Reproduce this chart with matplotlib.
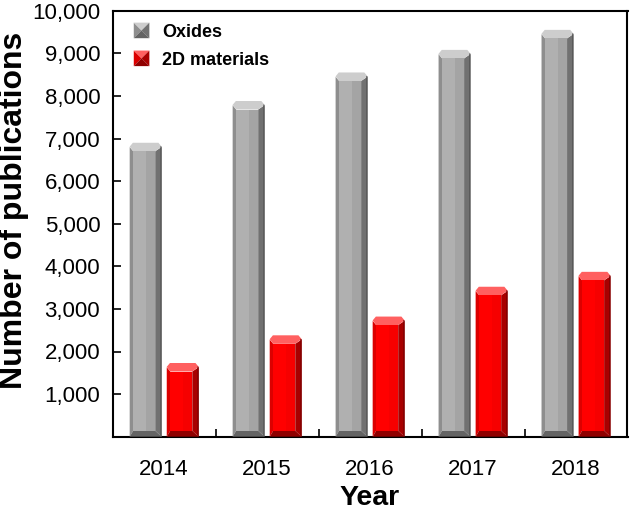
import numpy as np
import matplotlib
matplotlib.use("Agg")
import matplotlib.pyplot as plt
from matplotlib.patches import Polygon
from matplotlib.legend_handler import HandlerBase
from matplotlib.patches import Patch
from matplotlib.ticker import FuncFormatter, FixedLocator

years = ["2014", "2015", "2016", "2017", "2018"]
oxides = [6900, 7880, 8550, 9080, 9550]
materials_2d = [1730, 2380, 2820, 3520, 3870]
series_names = ["Oxides", "2D materials"]
y_ticks = [1000, 2000, 3000, 4000, 5000, 6000, 7000, 8000, 9000, 10000]

plt.rcParams['font.family'] = ['Liberation Sans', 'DejaVu Sans']

GRAY = dict(face='#b0b0b0', face2='#a4a4a4', left='#8e8e8e', right='#717171',
            top='#cdcdcd', bottom='#646464', edge='#555555')
RED = dict(face='#ff0000', face2='#f60000', left='#dc0000', right='#a80000',
           top='#ff6060', bottom='#900000', edge='#7a0000')

fig = plt.figure(figsize=(6.30, 5.13), dpi=100)
ax = fig.add_axes([112.7 / 630, (513 - 436.7) / 513, (627.5 - 112.7) / 630, (436.7 - 10.7) / 513])

x = np.arange(len(years))
bw = 0.31
off = 0.18


def bevel_bars(rects, c):
    for r in rects:
        x0, w, h = r.get_x(), r.get_width(), r.get_height()
        x1 = x0 + w
        sl = w * 0.11
        sr = w * 0.20
        ty = 200.0
        by = 140.0
        inner = [(x0 + sl, by), (x1 - sr, by), (x1 - sr, h - ty), (x0 + sl, h - ty)]
        polys = [
            ([(x0, 0), (x0 + sl, by), (x0 + sl, h - ty), (x0, h - ty * 0.5)], c['left']),
            ([(x1, 0), (x1, h - ty * 0.5), (x1 - sr, h - ty), (x1 - sr, by)], c['right']),
            ([(x0, 0), (x1, 0), (x1 - sr, by), (x0 + sl, by)], c['bottom']),
            ([(x0, h - ty * 0.45), (x0 + w * 0.10, h), (x1 - w * 0.10, h), (x1, h - ty * 0.45),
              (x1 - sr, h - ty), (x0 + sl, h - ty)], c['top']),
            (inner, c['face']),
            ([(x0 + sl + (w - sl - sr) * 0.6, by), (x1 - sr, by), (x1 - sr, h - ty),
              (x0 + sl + (w - sl - sr) * 0.6, h - ty)], c['face2']),
        ]
        for pts, col in polys:
            ax.add_patch(Polygon(pts, closed=True, facecolor=col, edgecolor='none', zorder=3))
        ax.add_patch(Polygon([(x1 - w * 0.04, 0), (x1, 0), (x1, h - ty * 0.45), (x1 - w * 0.04, h - ty * 0.4)],
                             closed=True, facecolor=c['edge'], edgecolor='none', zorder=3))


b1 = ax.bar(x - off, oxides, width=bw, color='none', edgecolor='none', zorder=2)
b2 = ax.bar(x + off, materials_2d, width=bw, color='none', edgecolor='none', zorder=2)
bevel_bars(b1, GRAY)
bevel_bars(b2, RED)

ax.set_xlim(-0.5, len(years) - 0.5)
ax.set_ylim(0, 10000)
ax.set_xticks(x)
ax.set_xticklabels(years)
ax.xaxis.set_minor_locator(FixedLocator(x[:-1] + 0.5))
ax.tick_params(axis='x', which='major', length=0, labelsize=16, pad=16)
ax.tick_params(axis='x', which='minor', direction='in', length=6, width=1.2, color='black')
ax.yaxis.set_major_locator(FixedLocator(y_ticks))
ax.yaxis.set_major_formatter(FuncFormatter(lambda v, p: f"{int(v):,}"))
ax.tick_params(axis='y', direction='in', length=6, width=1.2, labelsize=16, pad=9)
for s in ax.spines.values():
    s.set_linewidth(1.5)

ax.set_xlabel("Year", fontsize=20.5, fontweight='bold', va='center')
ax.xaxis.set_label_coords(0.498, -0.145)
ax.set_ylabel("Number of publications", fontsize=23, fontweight='bold', va='center')
ax.yaxis.set_label_coords(-0.192, 0.532)


class BevelHandler(HandlerBase):
    def __init__(self, c):
        super().__init__()
        self.c = c

    def create_artists(self, legend, orig_handle, xdescent, ydescent, width, height, fontsize, trans):
        s = height
        x0, y0 = -xdescent + (width - s) / 2, -ydescent
        x1, y1 = x0 + s, y0 + s
        cx, cy = (x0 + x1) / 2, (y0 + y1) / 2
        c = self.c
        arts = [
            Polygon([(x0, y0), (x0, y1), (cx, cy)], facecolor=c['left'], edgecolor='none', transform=trans),
            Polygon([(x0, y1), (x1, y1), (cx, cy)], facecolor=c['top'], edgecolor='none', transform=trans),
            Polygon([(x1, y1), (x1, y0), (cx, cy)], facecolor=c['right'], edgecolor='none', transform=trans),
            Polygon([(x1, y0), (x0, y0), (cx, cy)], facecolor=c['bottom'], edgecolor='none', transform=trans),
        ]
        return arts


h1 = Patch(label=series_names[0])
h2 = Patch(label=series_names[1])
leg = ax.legend([h1, h2], series_names, loc='upper left', bbox_to_anchor=(0.0394, 0.972),
                frameon=False, prop={'weight': 'bold', 'size': 13}, handlelength=0.95,
                handleheight=0.95, handletextpad=0.68, labelspacing=0.55, borderpad=0.0,
                borderaxespad=0.0,
                handler_map={h1: BevelHandler(GRAY), h2: BevelHandler(RED)})

fig.savefig("out.png", dpi=100)
